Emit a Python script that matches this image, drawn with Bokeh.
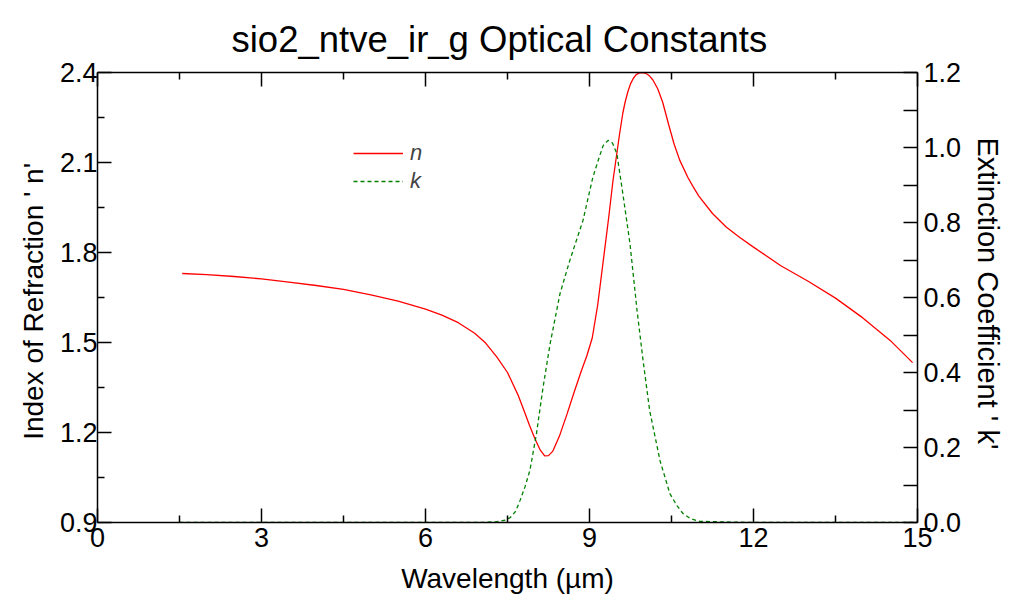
from bokeh.plotting import figure
from bokeh.models import (LinearAxis, Range1d, FixedTicker, Legend, LegendItem,
                          NumeralTickFormatter, CustomJSTickFormatter)
from bokeh.embed import file_html
from bokeh.resources import INLINE

# ---- data ----
wl_n = [1.55, 2.0, 2.5, 3.0, 3.5, 4.0, 4.5, 5.0, 5.5, 6.0, 6.3, 6.6, 6.9, 7.1, 7.3, 7.5,
        7.7, 7.8, 7.9, 8.0, 8.1, 8.18, 8.25, 8.33, 8.45, 8.59, 8.72, 8.85, 8.95, 9.05,
        9.15, 9.25, 9.35, 9.43, 9.5, 9.55, 9.61, 9.65, 9.7, 9.75, 9.8, 9.85, 9.9, 9.95,
        10.0, 10.05, 10.1, 10.16, 10.25, 10.34, 10.45, 10.55, 10.65, 10.8, 10.9, 11.0, 11.25,
        11.5, 11.75, 12.0, 12.5, 13.0, 13.5, 14.0, 14.5, 14.91]
n_vals = [1.730, 1.726, 1.720, 1.712, 1.701, 1.690, 1.677, 1.659, 1.638, 1.611, 1.591, 1.566,
          1.531, 1.498, 1.453, 1.400, 1.322, 1.274, 1.225, 1.180, 1.141, 1.122, 1.123, 1.138,
          1.188, 1.262, 1.335, 1.405, 1.455, 1.515, 1.625, 1.770, 1.915, 2.040, 2.130, 2.195,
          2.265, 2.300, 2.335, 2.362, 2.380, 2.392, 2.398, 2.400, 2.399, 2.395, 2.388, 2.375,
          2.345, 2.300, 2.225, 2.160, 2.108, 2.050, 2.018, 1.988, 1.930, 1.885, 1.850, 1.818,
          1.756, 1.704, 1.648, 1.582, 1.507, 1.433]

wl_k = [1.5, 7.0, 7.3, 7.45, 7.55, 7.65, 7.73, 7.82, 7.91, 8.03, 8.15, 8.28, 8.46, 8.64, 8.88,
        9.06, 9.18, 9.25, 9.34, 9.42, 9.50, 9.61, 9.74, 9.87, 9.98, 10.10, 10.29, 10.47, 10.6,
        10.71, 10.85, 11.02, 12.0, 15.0]
k_vals = [0.0, 0.0, 0.002, 0.006, 0.013, 0.030, 0.059, 0.095, 0.139, 0.237, 0.360, 0.477, 0.610,
          0.699, 0.805, 0.920, 0.975, 1.005, 1.019, 1.012, 0.984, 0.877, 0.744, 0.565, 0.432,
          0.299, 0.165, 0.077, 0.045, 0.024, 0.010, 0.003, 0.0, 0.0]

x_ticks = [0, 3, 6, 9, 12, 15]
x_minor = [1.5, 4.5, 7.5, 10.5, 13.5]
n_ticks = [0.9, 1.2, 1.5, 1.8, 2.1, 2.4]
n_minor = [1.05, 1.35, 1.65, 1.95, 2.25]
k_ticks = [0.0, 0.2, 0.4, 0.6, 0.8, 1.0, 1.2]
k_minor = [0.1, 0.3, 0.5, 0.7, 0.9, 1.1]

FONT = "Liberation Sans"

p = figure(width=1007, height=596, output_backend="svg", toolbar_location=None,
           x_range=Range1d(0, 15), y_range=Range1d(0.9, 2.4),
           min_border_left=97, min_border_right=89, min_border_top=72, min_border_bottom=74)
p.extra_y_ranges = {"k": Range1d(0, 1.2)}
p.xgrid.grid_line_color = None
p.ygrid.grid_line_color = None
p.outline_line_color = None
p.background_fill_color = "white"
p.border_fill_color = "white"

p.title.text = "sio2_ntve_ir_g Optical Constants"
p.title.align = "left"
p.title.offset = 134
p.title.standoff = 22
p.title.vertical_align = "top"
p.title.text_font = FONT
p.title.text_font_size = "36.5px"
p.title.text_font_style = "normal"
p.title.text_color = "black"


def style(ax, ticks, minor, label_size="27px"):
    ax.ticker = FixedTicker(ticks=ticks, minor_ticks=minor)
    ax.major_tick_in = 14
    ax.major_tick_out = 0
    ax.minor_tick_in = 7
    ax.minor_tick_out = 0
    ax.axis_line_color = "black"
    ax.axis_line_width = 1.5
    ax.major_tick_line_color = "black"
    ax.major_tick_line_width = 1.5
    ax.minor_tick_line_color = "black"
    ax.minor_tick_line_width = 1.5
    ax.major_label_text_font = FONT
    ax.major_label_text_font_size = label_size
    ax.major_label_text_color = "black"
    ax.axis_label_text_font = FONT
    ax.axis_label_text_font_size = "28px"
    ax.axis_label_text_font_style = "normal"
    ax.axis_label_text_color = "black"


xa = p.xaxis[0]
style(xa, x_ticks, x_minor)
xa.axis_label = "Wavelength (µm)"
xa.major_label_standoff = 5
xa.axis_label_standoff = 13

ya = p.yaxis[0]
style(ya, n_ticks, n_minor)
ya.formatter = NumeralTickFormatter(format="0.0")
ya.axis_label = "Index of Refraction '  n'"
ya.major_label_standoff = 0
ya.axis_label_standoff = 8

ra = LinearAxis(y_range_name="k")
style(ra, k_ticks, k_minor)
ra.minor_tick_in = 14
ra.formatter = NumeralTickFormatter(format="0.0")
ra.axis_label = "Extinction Coefficient '  k'"
ra.axis_label_text_font_size = "29px"
ra.major_label_standoff = 6
ra.axis_label_standoff = 8
p.add_layout(ra, "right")

ta = LinearAxis()
style(ta, x_ticks, x_minor, label_size="1px")
ta.formatter = CustomJSTickFormatter(code="return ''")
ta.major_label_standoff = 0
p.add_layout(ta, "above")

rn = p.line(wl_n, n_vals, line_color="#ff0000", line_width=1.3)
rk = p.line(wl_k, k_vals, line_color="#008000", line_width=1.3, line_dash="4 3",
            y_range_name="k")

legend = Legend(items=[LegendItem(label="n", renderers=[rn]),
                       LegendItem(label="k", renderers=[rk])],
                location=(256, 327), orientation="vertical",
                glyph_width=50, glyph_height=28, label_height=28, label_width=10,
                label_standoff=7, spacing=0, padding=0, margin=0,
                border_line_color=None, background_fill_alpha=0,
                label_text_font=FONT, label_text_font_size="22px",
                label_text_font_style="italic")
p.add_layout(legend, "center")

open("out.html", "w").write(file_html(p, INLINE))
